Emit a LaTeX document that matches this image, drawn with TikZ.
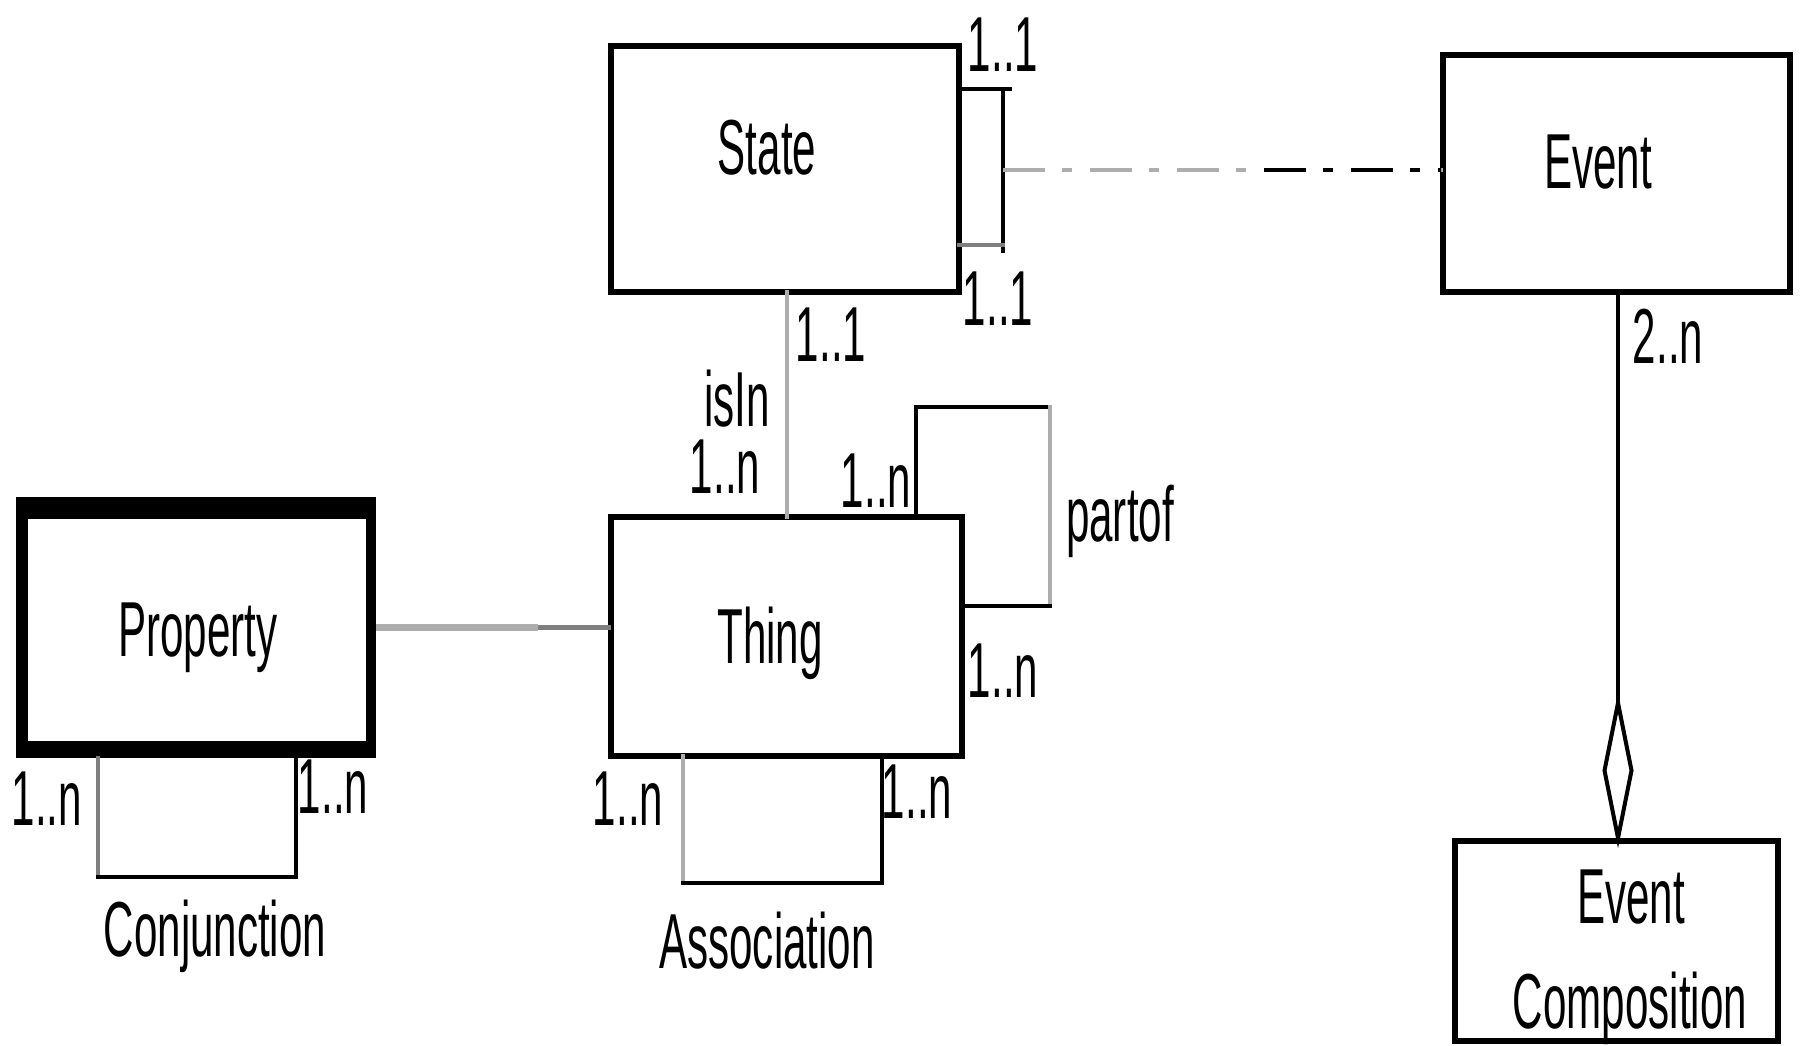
\documentclass[tikz,border=0pt]{standalone}
\usepackage{fontspec}
\usetikzlibrary{shapes.geometric}
\newfontfamily\narrowsf[FakeStretch=0.54]{Liberation Sans}
\definecolor{linegray}{HTML}{ADADAD}
\definecolor{midgray}{HTML}{7F7F7F}
\begin{document}
\begin{tikzpicture}[x=1pt,y=-1pt,
  entity/.style={draw, line width=5.5pt, outer sep=0pt, inner sep=0pt, fill=white},
  txt/.style={font=\narrowsf\fontsize{78}{90}\selectfont, inner sep=0pt, anchor=base},
  flat/.style={txt, text height=57pt, text depth=0pt},
  conn/.style={line width=4.5pt, line cap=rect},
  faint/.style={conn, draw=linegray},
  dashdot/.style={line width=4.5pt, dash pattern=on 42pt off 17pt on 10pt off 18pt},
]
\useasboundingbox[fill=white] (0,0) rectangle (1805,1046);

% entities
\node[entity, minimum width=348pt, minimum height=246pt] (state) at (785,169) {};
\node[entity, minimum width=347pt, minimum height=237pt] (event) at (1616.5,173.5) {};
\node[entity, minimum width=351pt, minimum height=239pt] (thing) at (786.5,636.5) {};
\node[entity, minimum width=323pt, minimum height=200pt] (evcomp) at (1616.5,941) {};
\node[fill=black, minimum width=360pt, minimum height=261pt, inner sep=0pt, outer sep=0pt] (prop) at (196,627.5) {};
\fill[white] (28,519) rectangle (366,741);

% State self-association
\coordinate (sl1) at (1003,89);
\coordinate (sl2) at (1003,245);
\draw[conn] (state.east |- sl1) -- (1010,89);
\draw[conn] (sl1) -- (1003,251);
\draw[conn, draw=midgray] (state.east |- sl2) -- (sl2);

% State - Event
\coordinate (dd) at (1003,170);
\draw[dashdot, draw=linegray] (dd) -- (dd -| event.west);
\begin{scope}
  \clip (1258,150) rectangle (1441,190);
  \draw[dashdot, line width=4pt, draw=black] (dd) -- (dd -| event.west);
\end{scope}

% isIn
\coordinate (isx) at (787,0);
\draw[faint] (state.south -| isx) -- (thing.north -| isx);

% partof
\coordinate (p1) at (916,407);
\coordinate (p2) at (1050,407);
\coordinate (p3) at (1050,606);
\draw[conn] (thing.north -| p1) -- (p1) -- (p2);
\draw[faint] (p2) -- (p3);
\draw[conn] (p3) -- (thing.east |- p3);

% Property - Thing
\coordinate (pt) at (538,627);
\draw[draw=linegray, line width=7pt] (prop.east |- pt) -- (pt);
\draw[draw=midgray, line width=5pt] (pt) -- (thing.west |- pt);

% Conjunction
\coordinate (c1) at (98,877);
\coordinate (c2) at (296,877);
\draw[conn, draw=midgray, line width=3.5pt] (prop.south -| c1) -- (c1);
\draw[conn] (c1) -- (c2);
\draw[conn, line width=3.5pt] (c2) -- (prop.south -| c2);

% Association
\coordinate (a1) at (683,883);
\coordinate (a2) at (882,883);
\draw[faint, line width=4pt] (thing.south -| a1) -- (a1);
\draw[conn] (a1) -- (a2);
\draw[conn, line width=3.5pt] (a2) -- (thing.south -| a2);

% Event composition (aggregation)
\node[draw, shape=diamond, line width=4pt, fill=white, minimum width=27pt, minimum height=135pt, inner sep=0pt, outer sep=0pt] (agg) at (1618,770.5) {};
\draw[conn] (event.south -| agg) -- (agg.north);
\draw[conn] (agg.south) -- (evcomp.north -| agg);

% names
\node[txt] (tstate) at (767,175) {State};
\node[txt] (tevent) at (1598,188) {Event};
\node[txt] (tprop) at (198,656) {Property};
\node[txt] (tthing) at (770,663) {Thing};
\node[txt] (tconj) at (215,956) {Conjunction};
\node[txt] (tassoc) at (767,968) {Association};
\node[flat] (tec1) at (1631,923) {Event};
\node[txt] (tec2) at (1630,1028) {Composition};
\node[flat] (tisin) at (737,426) {isIn};
\node[txt] (tpartof) at (1120,541) {partof};

% multiplicities
\node[flat] (m1) at (1003,72) {1..1};
\node[flat] (m2) at (998,325) {1..1};
\node[flat] (m3) at (831,361) {1..1};
\node[flat] (m4) at (725,493) {1..n};
\node[flat] (m5) at (876,507) {1..n};
\node[flat] (m6) at (1003,697) {1..n};
\node[flat] (m7) at (47,825) {1..n};
\node[flat] (m8) at (333,813) {1..n};
\node[flat] (m9) at (628,825) {1..n};
\node[flat] (m10) at (917,818) {1..n};
\node[flat] (m11) at (1668,363) {2..n};
\end{tikzpicture}
\end{document}
